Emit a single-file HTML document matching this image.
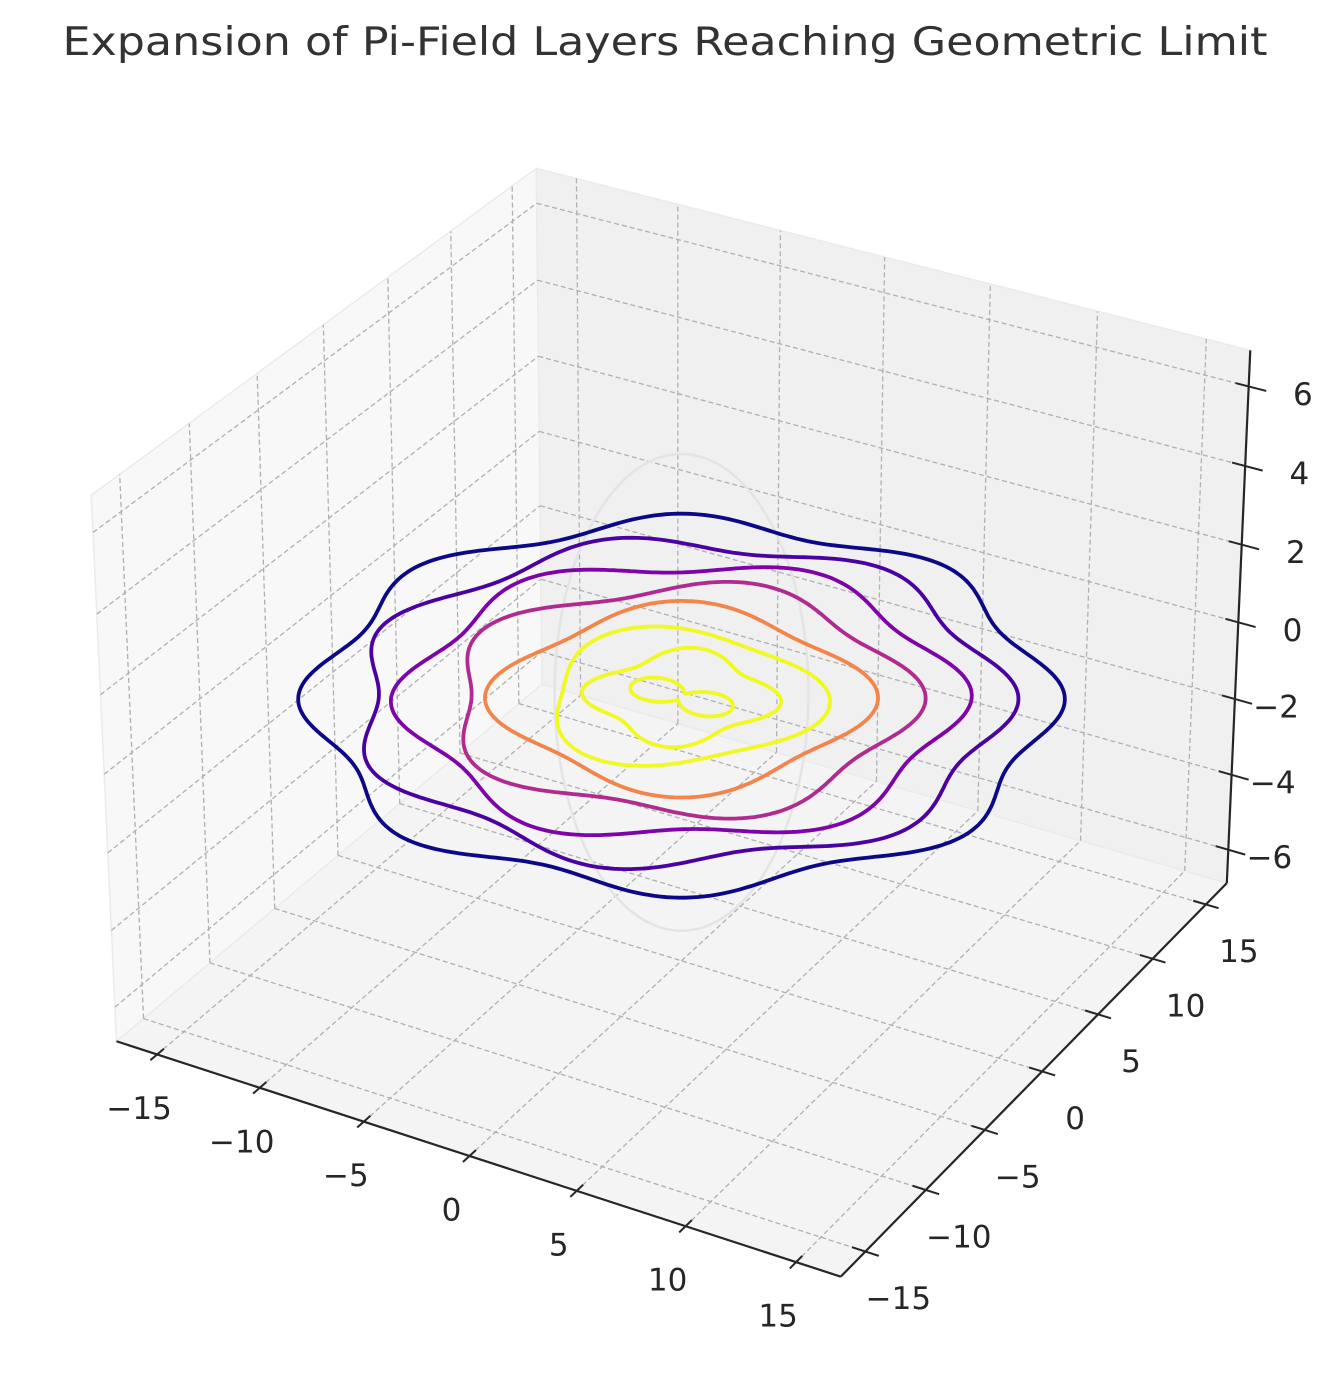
<!DOCTYPE html>
<html><head><meta charset="utf-8"><style>
html,body{margin:0;padding:0;background:#fff;}
svg{display:block;font-family:"DejaVu Sans","Liberation Sans",sans-serif;}
</style></head><body>
<svg id="chart" width="1332" height="1380" viewBox="0 0 1332 1380" xmlns="http://www.w3.org/2000/svg">
<text x="665" y="55" text-anchor="middle" font-size="39" fill="#333333" textLength="1205" lengthAdjust="spacingAndGlyphs">Expansion of Pi-Field Layers Reaching Geometric Limit</text>
<g id="panes"></g>
<g id="grid"></g>
<g id="series"></g>
<g id="axes"></g>
</svg>
<script>
// ---- data ----
const xTicks = [-15, -10, -5, 0, 5, 10, 15];
const yTicks = [-15, -10, -5, 0, 5, 10, 15];
const zTicks = [-6, -4, -2, 0, 2, 4, 6];
const xLim = [-17, 17];
const yLim = [-17, 17];
const zLim = [-6.9, 6.9];
const layerRadius = [15, 13.1, 11.2, 9.3, 7.4, 5.5, 3.6, 1.3];
const layerAmp = [0.7, 0.7, 0.7, 0.7, 0.65, 0.6, 0.5, 1.0];
const layerLobes = [8, 7, 6, 5, 4, 3, 4, 2];
const layerPhase = [-150, -120, -100, -60, -30, 20, 0, 90];
const layerZ = [0, 0, 0, 0, 0, 0, 0, 0];
const layerColors = ['#0d0887', '#4a02a0', '#7e03a8', '#b02a8f', '#f3854b', '#f0f921', '#f0f921', '#f0f921'];
const limitA = [5.2];
const limitB = [6.1];

const NS = 'http://www.w3.org/2000/svg';
const asp = [4, 4, 3];
const an = Math.hypot(...asp);
const box = asp.map(a => a / an * 1.8294640721620434);
const el = 30 * Math.PI / 180, az = -60 * Math.PI / 180;
const ps = [Math.cos(el) * Math.cos(az), Math.cos(el) * Math.sin(az), Math.sin(el)];
const eye = [box[0] / 2 + 10 * ps[0], box[1] / 2 + 10 * ps[1], box[2] / 2 + 10 * ps[2]];
function cross(a, b) { return [a[1]*b[2]-a[2]*b[1], a[2]*b[0]-a[0]*b[2], a[0]*b[1]-a[1]*b[0]]; }
function norm(a) { const n = Math.hypot(...a); return a.map(v => v / n); }
const W = ps, U = norm(cross([0, 0, 1], W)), V = cross(W, U);
function raw(x, y, z) {
  const p = [(x - xLim[0]) / (xLim[1] - xLim[0]) * box[0], (y - yLim[0]) / (yLim[1] - yLim[0]) * box[1], (z - zLim[0]) / (zLim[1] - zLim[0]) * box[2]];
  const d = [p[0] - eye[0], p[1] - eye[1], p[2] - eye[2]];
  const vx = U[0]*d[0]+U[1]*d[1]+U[2]*d[2], vy = V[0]*d[0]+V[1]*d[1]+V[2]*d[2], vz = W[0]*d[0]+W[1]*d[1]+W[2]*d[2];
  return [vx / -vz, vy / -vz];
}
const X0 = xLim[0], X1 = xLim[1], Y0 = yLim[0], Y1 = yLim[1], Z0 = zLim[0], Z1 = zLim[1];
const fitPts = [[[X0,Y0,Z0],[116,1042]],[[X1,Y0,Z0],[841,1277]],[[X1,Y1,Z0],[1226,883]],[[X0,Y0,Z1],[92,495]],[[X0,Y1,Z1],[537,168]],[[X1,Y1,Z1],[1250,350]]];
let mx=0,my=0,mX=0,mY=0; const rp = fitPts.map(f => raw(...f[0]));
rp.forEach((r,i)=>{mx+=r[0];my+=r[1];mX+=fitPts[i][1][0];mY+=fitPts[i][1][1];});
const n = rp.length; mx/=n;my/=n;mX/=n;mY/=n;
let num=0,den=0;
rp.forEach((r,i)=>{const dx=r[0]-mx,dy=r[1]-my;num+=dx*(fitPts[i][1][0]-mX)-dy*(fitPts[i][1][1]-mY);den+=dx*dx+dy*dy;});
const S = num/den, OX = mX - S*mx, OY = mY + S*my;
function P(x, y, z) { const r = raw(x, y, z); return [OX + S * r[0], OY - S * r[1]]; }

function mk(tag, attrs, parent) { const e = document.createElementNS(NS, tag); for (const k in attrs) e.setAttribute(k, attrs[k]); parent.appendChild(e); return e; }
function poly(pts) { return pts.map(p => p[0].toFixed(1) + ',' + p[1].toFixed(1)).join(' '); }

const gP = document.getElementById('panes');
let e;
e = mk('polygon', {points: poly([P(X0,Y0,Z0),P(X1,Y0,Z0),P(X1,Y1,Z0),P(X0,Y1,Z0)]), fill:'#f4f4f4', stroke:'#ebebeb','stroke-width':1.5}, gP);


e = mk('polygon', {points: poly([P(X0,Y0,Z0),P(X0,Y1,Z0),P(X0,Y1,Z1),P(X0,Y0,Z1)]), fill:'#f8f8f8', stroke:'#ebebeb','stroke-width':1.5}, gP);


e = mk('polygon', {points: poly([P(X0,Y1,Z0),P(X1,Y1,Z0),P(X1,Y1,Z1),P(X0,Y1,Z1)]), fill:'#f0f0f0', stroke:'#ebebeb','stroke-width':1.5}, gP);



const gG = document.getElementById('grid');
function gl(a, b, name) {
  const p = P(...a), q = P(...b);
  const l = mk('line', {x1:p[0],y1:p[1],x2:q[0],y2:q[1],stroke:'#b0b0b0','stroke-width':1.3,'stroke-dasharray':'5,3'}, gG);
  
  
}
xTicks.forEach(t => { gl([t,Y0,Z0],[t,Y1,Z0],'floor-x-gridline'); gl([t,Y1,Z0],[t,Y1,Z1],'back-x-gridline'); });
yTicks.forEach(t => { gl([X0,t,Z0],[X1,t,Z0],'floor-y-gridline'); gl([X0,t,Z0],[X0,t,Z1],'left-y-gridline'); });
zTicks.forEach(t => { gl([X0,Y0,t],[X0,Y1,t],'left-z-gridline'); gl([X0,Y1,t],[X1,Y1,t],'back-z-gridline'); });

const gS = document.getElementById('series');
{
  const pts = [];
  const ux = -Math.sin(az), uy = Math.cos(az);
  for (let i = 0; i <= 200; i++) {
    const t = i / 200 * 2 * Math.PI;
    const h = limitA[0] * Math.cos(t);
    pts.push(P(h * ux, h * uy, limitB[0] * Math.sin(t)));
  }
  e = mk('polyline', {points: poly(pts), fill:'none', stroke:'#e4e4e4','stroke-width':2.5}, gS);
  
  
}
layerRadius.forEach((R, i) => {
  const pts = [];
  for (let j = 0; j <= 400; j++) {
    const th = j / 400 * 2 * Math.PI;
    const r = R + layerAmp[i] * Math.sin(layerLobes[i] * th + layerPhase[i] * Math.PI / 180);
    pts.push(P(r * Math.cos(th), r * Math.sin(th), layerZ[i]));
  }
  const l = mk('polyline', {points: poly(pts), fill:'none', stroke:layerColors[i],'stroke-width':3.8,'stroke-linejoin':'round'}, gS);
  
  
});

const gA = document.getElementById('axes');
function axLine(a, b, name) {
  const p = P(...a), q = P(...b);
  const l = mk('line', {x1:p[0],y1:p[1],x2:q[0],y2:q[1],stroke:'#262626','stroke-width':2.2}, gA);
  
  
}
axLine([X0,Y0,Z0],[X1,Y0,Z0],'x-axis-line');
axLine([X1,Y0,Z0],[X1,Y1,Z0],'y-axis-line');
axLine([X1,Y1,Z0],[X1,Y1,Z1],'z-axis-line');
function tick(a, b, name) {
  const p = P(...a), q = P(...b);
  const l = mk('line', {x1:p[0],y1:p[1],x2:q[0],y2:q[1],stroke:'#262626','stroke-width':2}, gA);
  
  
}
function label(x, y, txt, anchor, name) {
  const t = mk('text', {x:x, y:y, 'text-anchor':anchor, 'font-size':31, fill:'#262626', 'dominant-baseline':'middle'}, gA);
  t.textContent = txt;
  
  
}
const fmt = v => (v < 0 ? '\u2212' + Math.abs(v) : '' + v);
xTicks.forEach(t => {
  tick([t,Y0+0.5,Z0],[t,Y0-0.5,Z0],'x-tick');
  const p = P(t,Y0,Z0);
  label(p[0]-18, p[1]+56, fmt(t), 'middle', 'x-tick-label');
});
yTicks.forEach(t => {
  tick([X1-0.6,t,Z0],[X1+0.6,t,Z0],'y-tick');
  const p = P(X1,t,Z0);
  label(p[0]+33, p[1]+49, fmt(t), 'middle', 'y-tick-label');
});
zTicks.forEach(t => {
  tick([X1-0.6,Y1,t],[X1+0.8,Y1,t],'z-tick');
  const p = P(X1,Y1,t);
  label(p[0]+64, p[1]+10, fmt(t), 'end', 'z-tick-label');
});
</script>
</body></html>
